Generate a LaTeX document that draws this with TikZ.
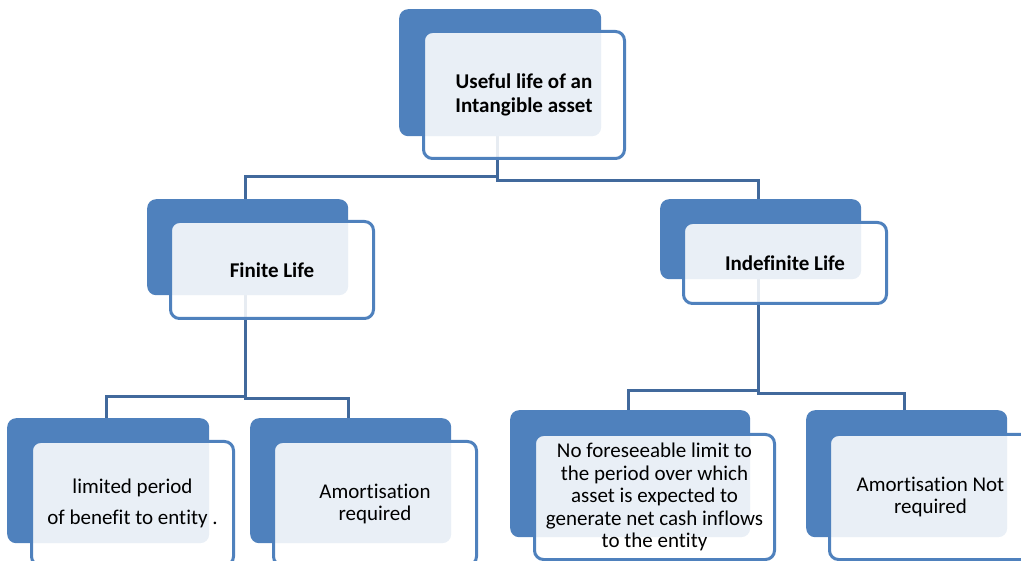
\documentclass[tikz,border=0pt]{standalone}
\usepackage{fontspec}
\setmainfont{Carlito}[Ligatures=NoCommon]
\usetikzlibrary{backgrounds}
\definecolor{backblue}{HTML}{4F81BD}
\definecolor{linkblue}{HTML}{41699C}
\tikzset{
 backbox/.style={draw=none, fill=backblue, rounded corners=9pt, anchor=north west, inner sep=0pt},
 frontbox/.style={draw=backblue, line width=3pt, fill=white, fill opacity=0.88, text opacity=1, rounded corners=9pt, anchor=north west, align=center, inner sep=0pt, text=black},
 link/.style={draw=linkblue, line width=3pt},
 boldtxt/.style={font=\fontsize{21}{23.5}\selectfont\bfseries},
 plaintxt/.style={font=\fontsize{21}{22}\selectfont},
}
\begin{document}
\begin{tikzpicture}[x=1pt,y=-1pt]
\useasboundingbox (0,0) rectangle (1021,561);
% back boxes
\node[backbox, minimum width=202pt, minimum height=127pt] (topB) at (399,9) {};
\node[backbox, minimum width=201pt, minimum height=96pt] (finB) at (147,199) {};
\node[backbox, minimum width=201pt, minimum height=80pt] (indB) at (660,199) {};
\node[backbox, minimum width=202pt, minimum height=125pt] (b1B) at (7,418) {};
\node[backbox, minimum width=201pt, minimum height=125pt] (b2B) at (250,418) {};
\node[backbox, minimum width=240pt, minimum height=127pt] (b3B) at (510,410) {};
\node[backbox, minimum width=201pt, minimum height=127pt] (b4B) at (806,410) {};
% front boxes
\node[frontbox, boldtxt, minimum width=201pt, minimum height=127pt] (topF) at (422,30) {Useful life of an\\Intangible asset};
\node[frontbox, boldtxt, minimum width=203pt, minimum height=97pt] (finF) at (169,220) {Finite Life};
\node[frontbox, boldtxt, minimum width=203pt, minimum height=81pt] (indF) at (682,221) {Indefinite Life};
\node[frontbox, plaintxt, minimum width=202pt, minimum height=124pt] (b1F) at (30,440) {limited period\\[9pt]of benefit to entity .};
\node[frontbox, plaintxt, minimum width=203pt, minimum height=124pt] (b2F) at (272,440) {Amortisation\\required};
\node[frontbox, plaintxt, font=\fontsize{21}{22.5}\selectfont, minimum width=240pt, minimum height=125pt] (b3F) at (533,433) {No foreseeable limit to\\the period over which\\asset is expected to\\generate net cash inflows\\to the entity};
\node[frontbox, plaintxt, minimum width=202pt, minimum height=125pt] (b4F) at (828,433) {Amortisation Not\\required};
% connectors
\begin{pgfonlayer}{background}
\draw[link] ([xshift=-3pt]topB.south) -- ++(0,40) -| ([xshift=-2pt]finB.north);
\draw[link] ([xshift=-3pt]topB.south) -- ++(0,44) -| ([xshift=-2pt]indB.north);
\draw[link] ([xshift=-2pt]finB.south) -- ++(0,101) -| ([xshift=-2pt]b1B.north);
\draw[link] ([xshift=-2pt]finB.south) -- ++(0,103) -| ([xshift=-2pt]b2B.north);
\draw[link] ([xshift=-2pt]indB.south) -- ++(0,111) -| ([xshift=-2pt]b3B.north);
\draw[link] ([xshift=-2pt]indB.south) -- ++(0,114) -| ([xshift=-2pt]b4B.north);
\end{pgfonlayer}
\end{tikzpicture}
\end{document}
